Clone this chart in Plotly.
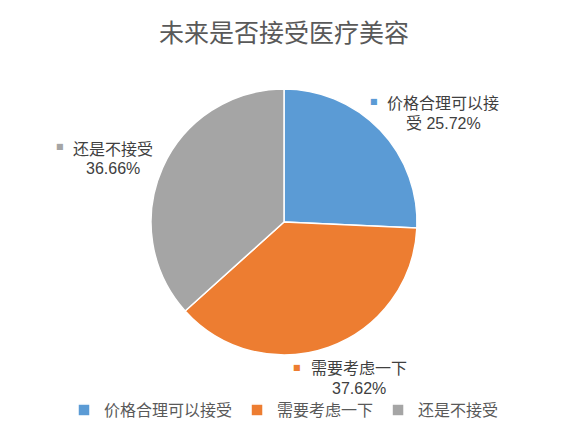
import plotly.graph_objects as go

categories = ["价格合理可以接受", "需要考虑一下", "还是不接受"]
values = [25.72, 37.62, 36.66]
colors = ["#5B9BD5", "#ED7D31", "#A5A5A5"]
label_line1 = ["价格合理可以接", "需要考虑一下", "还是不接受"]
label_line2 = ["受 25.72%", "37.62%", "36.66%"]

W, H = 584, 443
OFF = 8  # page body margin in the browser


def px(x):
    return (x - OFF) / W


def py(y):
    return 1 - (y - OFF) / H


cx, cy, r = 284, 222, 133

fig = go.Figure(go.Pie(
    labels=categories,
    values=values,
    sort=False,
    direction="clockwise",
    rotation=0,
    marker=dict(colors=colors, line=dict(color="white", width=1.5)),
    textinfo="none",
    domain=dict(x=[px(cx - r), px(cx + r)], y=[py(cy + r), py(cy - r)]),
    hoverinfo="label+percent",
))

# data-label placement (pixel centers: first line, second line, key square)
line1_pos = [(443, 102), (359, 367), (113, 148)]
line2_pos = [(443, 123), (359, 388), (113, 169)]
key_pos = [(374, 101), (297, 367), (60, 146)]
for c, l1, l2, p1, p2, pk in zip(colors, label_line1, label_line2, line1_pos, line2_pos, key_pos):
    fig.add_annotation(
        x=px(p1[0]), y=py(p1[1]), xref="paper", yref="paper",
        xanchor="center", yanchor="middle", showarrow=False, text=l1,
        font=dict(family="Noto Sans CJK SC", size=16, color="#404040"),
    )
    fig.add_annotation(
        x=px(p2[0]), y=py(p2[1]), xref="paper", yref="paper",
        xanchor="center", yanchor="middle", showarrow=False, text=l2,
        font=dict(family="Liberation Sans, Noto Sans CJK SC", size=16, color="#404040"),
    )
    fig.add_annotation(
        x=px(pk[0]), y=py(pk[1]), xref="paper", yref="paper",
        xanchor="center", yanchor="middle", showarrow=False, text="■",
        font=dict(family="DejaVu Sans", size=8, color=c),
    )

fig.update_layout(
    width=W, height=H,
    margin=dict(l=0, r=0, t=0, b=0),
    paper_bgcolor="white",
    title=dict(text="未来是否接受医疗美容", x=px(284), xanchor="center", y=py(33), yanchor="middle",
               font=dict(family="Noto Sans CJK SC", size=25, color="#595959")),
    showlegend=True,
    legend=dict(orientation="h", x=px(284), xanchor="center", y=py(410), yanchor="middle",
                font=dict(family="Noto Sans CJK SC", size=16, color="#595959"),
                itemwidth=30, traceorder="normal"),
)

fig.write_html("out.html")
